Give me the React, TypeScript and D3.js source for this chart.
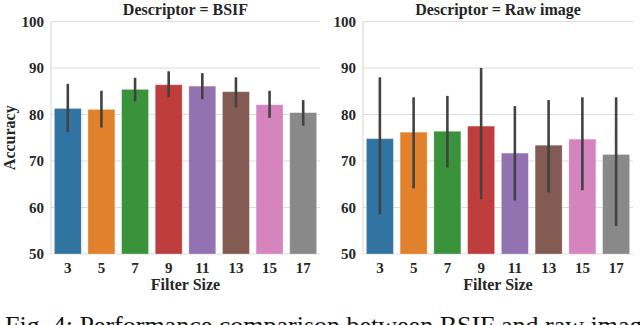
import { useEffect, useRef } from "react";
import * as d3 from "d3";

const filterSizes = ["3", "5", "7", "9", "11", "13", "15", "17"];

// BSIF descriptor
const bsifMean = [81.3, 81.1, 85.4, 86.4, 86.1, 84.9, 82.1, 80.4];
const bsifLow = [76.2, 77.2, 82.8, 83.7, 83.3, 81.5, 79.3, 77.6];
const bsifHigh = [86.6, 85.1, 87.9, 89.3, 88.9, 88.0, 85.1, 83.1];

// Raw image descriptor
const rawMean = [74.8, 76.2, 76.4, 77.5, 71.7, 73.4, 74.7, 71.4];
const rawLow = [58.5, 64.1, 68.6, 61.8, 61.5, 63.2, 63.7, 56.0];
const rawHigh = [88.0, 83.7, 84.0, 90.0, 81.8, 83.1, 83.7, 83.7];

const yTicks = [50, 60, 70, 80, 90, 100];

const colors = [
  "#3274a1",
  "#e1812c",
  "#3a923a",
  "#c03d3e",
  "#9372b2",
  "#845b53",
  "#d684bd",
  "#898989",
];

const panels = [
  { title: "Descriptor = BSIF", mean: bsifMean, low: bsifLow, high: bsifHigh, left: 51, right: 320 },
  { title: "Descriptor = Raw image", mean: rawMean, low: rawLow, high: rawHigh, left: 363, right: 633 },
];

const font = "'Liberation Serif', 'Times New Roman', serif";

export default function App() {
  const ref = useRef<SVGSVGElement | null>(null);

  useEffect(() => {
    const svg = d3.select(ref.current);
    svg.selectAll("*").remove();

    const yScale = d3.scaleLinear([50, 100], [254, 21.5]);

    panels.forEach((p, pi) => {
      const xScale = d3
        .scaleBand(filterSizes, [p.left, p.right])
        .paddingInner(0.2)
        .paddingOuter(0.1);
      const g = svg.append("g");

      // grid
      g.selectAll("line.grid")
        .data(yTicks)
        .join("line")
        .attr("x1", p.left)
        .attr("x2", p.right)
        .attr("y1", (d) => yScale(d))
        .attr("y2", (d) => yScale(d))
        .attr("stroke", "#dcdcdc")
        .attr("stroke-width", 1.2);

      // left spine
      g.append("line")
        .attr("x1", p.left)
        .attr("x2", p.left)
        .attr("y1", yScale(100))
        .attr("y2", yScale(50))
        .attr("stroke", "#dcdcdc")
        .attr("stroke-width", 1.2);

      // bars
      g.selectAll("rect")
        .data(p.mean)
        .join("rect")
        .attr("x", (d, i) => xScale(filterSizes[i]))
        .attr("y", (d) => yScale(d))
        .attr("width", xScale.bandwidth())
        .attr("height", (d) => yScale(50) - yScale(d))
        .attr("fill", (d, i) => colors[i])
        .attr("stroke", "#ffffff")
        .attr("stroke-opacity", 0.35)
        .attr("stroke-width", 0.8);

      // error bars
      g.selectAll("line.err")
        .data(p.mean)
        .join("line")
        .attr("x1", (d, i) => xScale(filterSizes[i]) + xScale.bandwidth() / 2)
        .attr("x2", (d, i) => xScale(filterSizes[i]) + xScale.bandwidth() / 2)
        .attr("y1", (d, i) => yScale(p.low[i]))
        .attr("y2", (d, i) => yScale(p.high[i]))
        .attr("stroke", "#424242")
        .attr("stroke-width", 2.6);

      // y tick labels
      g.selectAll("text.ytick")
        .data(yTicks)
        .join("text")
        .attr("x", p.left - 7)
        .attr("y", (d) => yScale(d))
        .attr("dy", "0.35em")
        .attr("text-anchor", "end")
        .style("font", `bold 15px ${font}`)
        .attr("fill", "#262626")
        .text((d) => d);

      // x tick labels
      g.selectAll("text.xtick")
        .data(filterSizes)
        .join("text")
        .attr("x", (d) => xScale(d) + xScale.bandwidth() / 2)
        .attr("y", 273)
        .attr("text-anchor", "middle")
        .style("font", `bold 15px ${font}`)
        .attr("fill", "#262626")
        .text((d) => d);

      // title
      g.append("text")
        .attr("x", (p.left + p.right) / 2)
        .attr("y", 15)
        .attr("text-anchor", "middle")
        .style("font", `bold 16px ${font}`)
        .attr("fill", "#262626")
        .text(p.title);

      // x label
      g.append("text")
        .attr("x", (p.left + p.right) / 2)
        .attr("y", 290)
        .attr("text-anchor", "middle")
        .style("font", `bold 16px ${font}`)
        .attr("fill", "#262626")
        .text("Filter Size");

      if (pi === 0) {
        g.append("text")
          .attr("transform", `translate(15, ${(yScale(50) + yScale(100)) / 2}) rotate(-90)`)
          .attr("text-anchor", "middle")
          .style("font", `bold 16px ${font}`)
          .attr("fill", "#262626")
          .text("Accuracy");
      }
    });

    // caption, cut off by the bottom edge as in the source
    svg
      .append("text")
      .attr("x", 5)
      .attr("y", 334)
      .style("font", `26px ${font}`)
      .attr("fill", "#111")
      .text("Fig. 4: Performance comparison between BSIF and raw image");
  }, []);

  return (
    <svg
      ref={ref}
      width={640}
      height={325}
      style={{ position: "fixed", left: 0, top: 0, background: "#fff" }}
    />
  );
}
